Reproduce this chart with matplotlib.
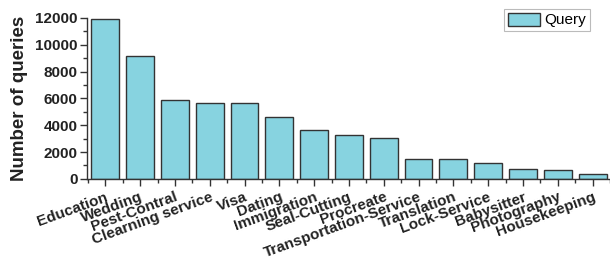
import matplotlib
matplotlib.use("Agg")
import matplotlib.pyplot as plt
from matplotlib.ticker import MultipleLocator
import numpy as np

categories = ["Education", "Wedding", "Pest-Contral", "Clearning service", "Visa",
              "Dating", "Immigration", "Seal-Cutting", "Procreate",
              "Transportation-Service", "Translation", "Lock-Service",
              "Babysitter", "Photography", "Housekeeping"]
queries = [11900, 9150, 5900, 5650, 5620, 4650, 3620, 3270, 3050,
           1500, 1470, 1150, 750, 680, 400]
yticks = [0, 2000, 4000, 6000, 8000, 10000, 12000]

plt.rcParams['font.family'] = ['Liberation Sans', 'DejaVu Sans']

fig = plt.figure(figsize=(6.10, 2.67), dpi=100)
ax = fig.add_axes([0.143, 0.330, 0.857, 0.603])

x = np.arange(len(categories))
ax.bar(x, queries, width=0.8, color="#87D3E0", edgecolor="#333333",
       linewidth=1.0, label="Query")

ax.set_xlim(-0.52, 14.5)
ax.set_ylim(0, 12000)
ax.set_yticks(yticks)
ax.set_yticklabels([str(v) for v in yticks], fontsize=11, fontweight='bold')
ax.yaxis.set_minor_locator(MultipleLocator(1000))
ax.set_xticks(x)
ax.set_xticklabels(categories, rotation=20, ha='right', rotation_mode='anchor',
                   fontsize=11, fontweight='bold')
ax.set_xticks(np.arange(-0.5, 15, 1.0), minor=True)

ax.tick_params(axis='both', which='major', direction='out', length=5, width=1,
               color='#333333', labelcolor='#222222')
ax.tick_params(axis='both', which='minor', direction='out', length=3, width=1,
               color='#333333')
ax.tick_params(axis='y', which='major', pad=2)
ax.tick_params(axis='x', which='major', pad=3)

for s in ['top', 'right']:
    ax.spines[s].set_visible(False)
for s in ['left', 'bottom']:
    ax.spines[s].set_color('#333333')
    ax.spines[s].set_linewidth(1.0)

ax.set_ylabel("Number of queries", fontsize=13.5, fontweight='bold', color='#222222',
              labelpad=5)

leg = ax.legend(loc='upper right', bbox_to_anchor=(0.962, 1.055), fontsize=11,
                frameon=True, fancybox=False, borderpad=0.25, handlelength=2.1,
                handleheight=0.9, handletextpad=0.3, borderaxespad=0.0)
leg.get_frame().set_edgecolor('#aaaaaa')
leg.get_frame().set_linewidth(0.8)

fig.savefig("out.png", dpi=100)
